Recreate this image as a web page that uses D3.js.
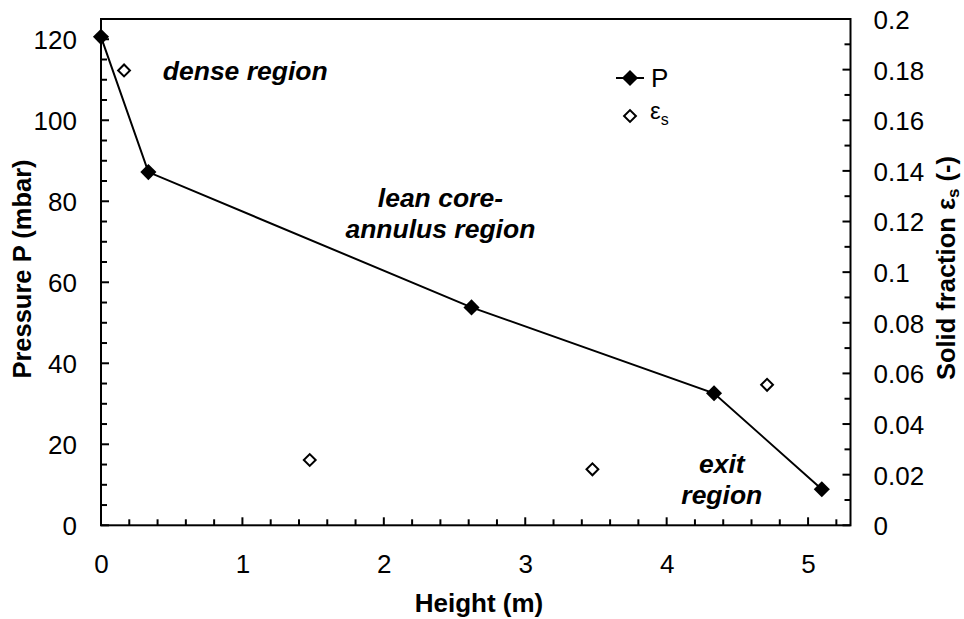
<!DOCTYPE html>
<html>
<head>
<meta charset="utf-8">
<script src="https://cdn.jsdelivr.net/npm/d3@7"></script>
<style>
  html, body { margin: 0; padding: 0; background: #fff; }
  svg { display: block; font-family: "Liberation Sans", Arial, sans-serif; }
  .tick text { font-size: 26px; fill: #000; }
  .domain { display: none; }
</style>
</head>
<body>
<svg id="chart" width="964" height="619"></svg>
<script>
// Pressure profile along the riser height
const heightP = [0, 0.335, 2.62, 4.335, 5.097];
const pressure = [120.6, 87.2, 53.8, 32.6, 8.9];

// Solid fraction measured at intermediate heights
const heightEps = [0.163, 1.476, 3.475, 4.71];
const solidFraction = [0.1797, 0.0258, 0.0221, 0.0555];

// Axis ticks
const xTicks = [0, 1, 2, 3, 4, 5];
const yLeftTicks = [0, 20, 40, 60, 80, 100, 120];
const yRightTicks = [0, 0.02, 0.04, 0.06, 0.08, 0.1, 0.12, 0.14, 0.16, 0.18, 0.2];
const yRightLabels = ["0", "0.02", "0.04", "0.06", "0.08", "0.1", "0.12", "0.14", "0.16", "0.18", "0.2"];

// Region annotations
const regionNotes = [
  { lines: ["dense region"], x: 1.02, y: 109.9 },
  { lines: ["lean core-", "annulus region"], x: 2.4, y: 78.5 },
  { lines: ["exit", "region"], x: 4.39, y: 13 }
];

const svg = d3.select("#chart");
const m = { left: 101, top: 19, right: 850.5, bottom: 525.3 };

const x = d3.scaleLinear().domain([0, 5.3]).range([m.left, m.right]);
const yL = d3.scaleLinear().domain([0, 125]).range([m.bottom, m.top]);
const yR = d3.scaleLinear().domain([0, 0.2]).range([m.bottom, m.top]);

// Tick marks pointing into the plot area
const xMinor = d3.range(0.2, 5.3, 0.2).filter(v => Math.abs(v - Math.round(v)) > 1e-6);
const yLMinor = d3.range(5, 125, 5).filter(v => v % 20 !== 0);
const yRMinor = d3.range(0.01, 0.2, 0.02);

const tg = svg.append("g").attr("stroke", "#000").attr("stroke-width", 2);
function vTicks(vals, len) {
  tg.append("g").selectAll("line").data(vals).join("line")
    .attr("x1", d => x(d)).attr("x2", d => x(d))
    .attr("y1", m.bottom).attr("y2", m.bottom - len);
}
function hTicks(vals, scale, x0, dir, len) {
  tg.append("g").selectAll("line").data(vals).join("line")
    .attr("y1", d => scale(d)).attr("y2", d => scale(d))
    .attr("x1", x0).attr("x2", x0 + dir * len);
}
vTicks(xMinor, 6);
vTicks(xTicks, 8);
hTicks(yLMinor, yL, m.left, 1, 6);
hTicks(yLeftTicks, yL, m.left, 1, 8);
hTicks(yRMinor, yR, m.right, -1, 6);
hTicks(yRightTicks, yR, m.right, -1, 8);

// Tick labels via d3 axes (tick lines hidden; marks drawn above)
const gx = svg.append("g").attr("transform", `translate(0,${m.bottom})`)
  .call(d3.axisBottom(x).tickValues(xTicks).tickSize(0).tickPadding(0).tickFormat(d3.format("d")));
gx.selectAll(".tick text").attr("y", 48).attr("dy", 0);

const gl = svg.append("g").attr("transform", `translate(${m.left},0)`)
  .call(d3.axisLeft(yL).tickValues(yLeftTicks).tickSize(0).tickFormat(d3.format("d")));
gl.selectAll(".tick text").attr("x", -24).attr("dy", "0.36em");

const gr = svg.append("g").attr("transform", `translate(${m.right},0)`)
  .call(d3.axisRight(yR).tickValues(yRightTicks).tickSize(0).tickFormat((d, i) => yRightLabels[i]));
gr.selectAll(".tick text").attr("x", 23).attr("dy", "0.36em");

// Plot frame
svg.append("rect")
  .attr("x", m.left).attr("y", m.top)
  .attr("width", m.right - m.left).attr("height", m.bottom - m.top)
  .attr("fill", "none").attr("stroke", "#000").attr("stroke-width", 2);

// Pressure line and markers
const pData = heightP.map((h, i) => [h, pressure[i]]);
svg.append("path")
  .datum(pData)
  .attr("fill", "none").attr("stroke", "#000").attr("stroke-width", 2)
  .attr("d", d3.line().x(d => x(d[0])).y(d => yL(d[1])));

const diamondFilled = d3.symbol().type(d3.symbolSquare).size(130);
svg.append("g").selectAll("path").data(pData).join("path")
  .attr("d", diamondFilled)
  .attr("transform", d => `translate(${x(d[0])},${yL(d[1])}) rotate(45)`)
  .attr("fill", "#000");

// Solid fraction markers
const eData = heightEps.map((h, i) => [h, solidFraction[i]]);
const diamondOpen = d3.symbol().type(d3.symbolSquare).size(70);
svg.append("g").selectAll("path").data(eData).join("path")
  .attr("d", diamondOpen)
  .attr("transform", d => `translate(${x(d[0])},${yR(d[1])}) rotate(45)`)
  .attr("fill", "#fff").attr("stroke", "#000").attr("stroke-width", 2);

// Legend
const lg = svg.append("g");
lg.append("line").attr("x1", 616).attr("x2", 644).attr("y1", 78).attr("y2", 78)
  .attr("stroke", "#000").attr("stroke-width", 2);
lg.append("path").attr("d", diamondFilled).attr("transform", "translate(630,78) rotate(45)").attr("fill", "#000");
lg.append("text").attr("x", 651).attr("y", 78).attr("dy", "0.36em")
  .attr("font-size", 26).text("P");
lg.append("path").attr("d", diamondOpen).attr("transform", "translate(630,116) rotate(45)")
  .attr("fill", "#fff").attr("stroke", "#000").attr("stroke-width", 2);
const le = lg.append("text").attr("x", 650).attr("y", 119).attr("font-size", 24);
le.append("tspan").text("ε");
le.append("tspan").attr("font-size", 16).attr("dy", 6).text("s");

// Region annotations
regionNotes.forEach(n => {
  const t = svg.append("text")
    .attr("text-anchor", "middle")
    .attr("font-size", 26.5).attr("font-weight", "bold").attr("font-style", "italic")
    .attr("x", x(n.x)).attr("y", yL(n.y));
  n.lines.forEach((line, i) => {
    t.append("tspan").attr("x", x(n.x)).attr("dy", i === 0 ? 0 : 31).text(line);
  });
});

// Axis titles
svg.append("text")
  .attr("x", 479).attr("y", 612)
  .attr("text-anchor", "middle").attr("font-size", 26).attr("font-weight", "bold")
  .text("Height (m)");

svg.append("text")
  .attr("transform", `translate(31,269) rotate(-90)`)
  .attr("text-anchor", "middle").attr("font-size", 25.5).attr("font-weight", "bold")
  .text("Pressure P (mbar)");

const rt = svg.append("text")
  .attr("transform", `translate(955,268) rotate(-90)`)
  .attr("text-anchor", "middle").attr("font-size", 25.5).attr("font-weight", "bold");
rt.append("tspan").text("Solid fraction ε");
rt.append("tspan").attr("font-size", 17).attr("dy", 4).text("s");
rt.append("tspan").attr("dy", -4).text(" (-)");
</script>
</body>
</html>
